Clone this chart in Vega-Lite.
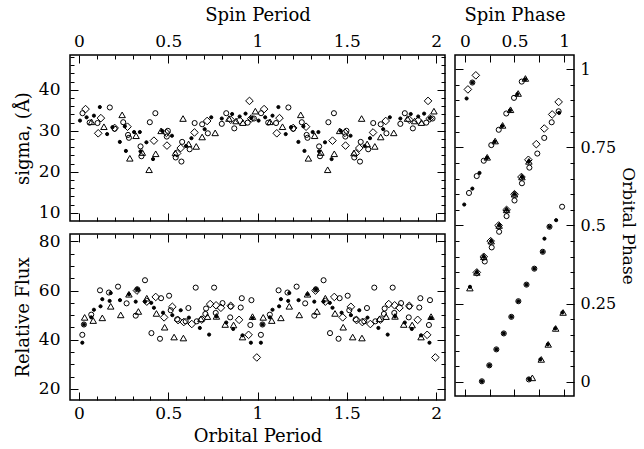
{
"$schema":"https://vega.github.io/schema/vega-lite/v6.json",
"padding":{"left":13,"top":5,"right":0,"bottom":0},
"config":{"view":{"stroke":"black","strokeWidth":1.5},"axis":{"grid":false,"domain":false,"tickColor":"black","tickWidth":1,"labelColor":"black","titleColor":"black","labelFont":"DejaVu Serif","titleFont":"DejaVu Serif","labelFontSize":17,"titleFontSize":18,"titleFontWeight":"normal","labelFlush":false,"labelOverlap":false}},
"datasets":{
"sig":[
{"x":0.006,"v":32.5,"s":"d"},{"x":0.043,"v":33.3,"s":"d"},{"x":0.084,"v":33.7,"s":"d"},{"x":0.117,"v":35.8,"s":"d"},{"x":0.158,"v":29.2,"s":"d"},{"x":0.188,"v":30.9,"s":"d"},{"x":0.229,"v":27.3,"s":"d"},{"x":0.257,"v":31.1,"s":"d"},{"x":0.263,"v":25.1,"s":"d"},{"x":0.309,"v":29.7,"s":"d"},{"x":0.341,"v":29.7,"s":"d"},{"x":0.345,"v":25.0,"s":"d"},{"x":0.378,"v":27.2,"s":"d"},{"x":0.415,"v":23.1,"s":"d"},{"x":0.466,"v":30.0,"s":"d"},{"x":0.521,"v":28.8,"s":"d"},{"x":0.60,"v":26.3,"s":"d"},{"x":0.63,"v":28.2,"s":"d"},{"x":0.704,"v":30.4,"s":"d"},{"x":0.741,"v":33.3,"s":"d"},{"x":0.80,"v":33.0,"s":"d"},{"x":0.858,"v":34.1,"s":"d"},{"x":0.90,"v":33.5,"s":"d"},{"x":0.933,"v":34.2,"s":"d"},{"x":0.965,"v":33.1,"s":"d"},
{"x":1.006,"v":32.5,"s":"d"},{"x":1.043,"v":33.3,"s":"d"},{"x":1.084,"v":33.7,"s":"d"},{"x":1.117,"v":35.8,"s":"d"},{"x":1.158,"v":29.2,"s":"d"},{"x":1.188,"v":30.9,"s":"d"},{"x":1.229,"v":27.3,"s":"d"},{"x":1.257,"v":31.1,"s":"d"},{"x":1.263,"v":25.1,"s":"d"},{"x":1.309,"v":29.7,"s":"d"},{"x":1.341,"v":29.7,"s":"d"},{"x":1.345,"v":25.0,"s":"d"},{"x":1.378,"v":27.2,"s":"d"},{"x":1.415,"v":23.1,"s":"d"},{"x":1.466,"v":30.0,"s":"d"},{"x":1.521,"v":28.8,"s":"d"},{"x":1.60,"v":26.3,"s":"d"},{"x":1.63,"v":28.2,"s":"d"},{"x":1.704,"v":30.4,"s":"d"},{"x":1.741,"v":33.3,"s":"d"},{"x":1.80,"v":33.0,"s":"d"},{"x":1.858,"v":34.1,"s":"d"},{"x":1.90,"v":33.5,"s":"d"},{"x":1.933,"v":34.2,"s":"d"},{"x":1.965,"v":33.1,"s":"d"},
{"x":0.02,"v":34.3,"s":"c"},{"x":0.06,"v":32.0,"s":"c"},{"x":0.104,"v":31.9,"s":"c"},{"x":0.173,"v":35.7,"s":"c"},{"x":0.20,"v":30.5,"s":"c"},{"x":0.248,"v":32.1,"s":"c"},{"x":0.275,"v":29.0,"s":"c"},{"x":0.28,"v":28.3,"s":"c"},{"x":0.345,"v":26.2,"s":"c"},{"x":0.35,"v":23.8,"s":"c"},{"x":0.397,"v":32.1,"s":"c"},{"x":0.428,"v":34.3,"s":"c"},{"x":0.498,"v":30.0,"s":"c"},{"x":0.492,"v":28.6,"s":"c"},{"x":0.542,"v":23.5,"s":"c"},{"x":0.574,"v":22.5,"s":"c"},{"x":0.578,"v":27.3,"s":"c"},{"x":0.62,"v":25.5,"s":"c"},{"x":0.648,"v":31.9,"s":"c"},{"x":0.69,"v":31.6,"s":"c"},{"x":0.722,"v":29.4,"s":"c"},{"x":0.80,"v":31.7,"s":"c"},{"x":0.825,"v":34.3,"s":"c"},{"x":0.87,"v":30.6,"s":"c"},{"x":0.945,"v":32.0,"s":"c"},{"x":0.98,"v":33.0,"s":"c"},
{"x":1.02,"v":34.3,"s":"c"},{"x":1.06,"v":32.0,"s":"c"},{"x":1.104,"v":31.9,"s":"c"},{"x":1.173,"v":35.7,"s":"c"},{"x":1.20,"v":30.5,"s":"c"},{"x":1.248,"v":32.1,"s":"c"},{"x":1.275,"v":29.0,"s":"c"},{"x":1.28,"v":28.3,"s":"c"},{"x":1.345,"v":26.2,"s":"c"},{"x":1.35,"v":23.8,"s":"c"},{"x":1.397,"v":32.1,"s":"c"},{"x":1.428,"v":34.3,"s":"c"},{"x":1.498,"v":30.0,"s":"c"},{"x":1.492,"v":28.6,"s":"c"},{"x":1.542,"v":23.5,"s":"c"},{"x":1.574,"v":22.5,"s":"c"},{"x":1.578,"v":27.3,"s":"c"},{"x":1.62,"v":25.5,"s":"c"},{"x":1.648,"v":31.9,"s":"c"},{"x":1.69,"v":31.6,"s":"c"},{"x":1.722,"v":29.4,"s":"c"},{"x":1.80,"v":31.7,"s":"c"},{"x":1.825,"v":34.3,"s":"c"},{"x":1.87,"v":30.6,"s":"c"},{"x":1.945,"v":32.0,"s":"c"},{"x":1.98,"v":33.0,"s":"c"},
{"x":0.07,"v":32.2,"s":"t"},{"x":0.14,"v":31.0,"s":"t"},{"x":0.242,"v":33.9,"s":"t"},{"x":0.285,"v":23.3,"s":"t"},{"x":0.32,"v":28.8,"s":"t"},{"x":0.355,"v":24.7,"s":"t"},{"x":0.393,"v":20.5,"s":"t"},{"x":0.43,"v":24.4,"s":"t"},{"x":0.46,"v":30.0,"s":"t"},{"x":0.54,"v":24.6,"s":"t"},{"x":0.583,"v":33.0,"s":"t"},{"x":0.614,"v":26.8,"s":"t"},{"x":0.657,"v":26.2,"s":"t"},{"x":0.69,"v":28.5,"s":"t"},{"x":0.763,"v":29.5,"s":"t"},{"x":0.84,"v":33.0,"s":"t"},{"x":0.88,"v":32.4,"s":"t"},{"x":0.918,"v":32.0,"s":"t"},{"x":0.988,"v":34.8,"s":"t"},
{"x":1.07,"v":32.2,"s":"t"},{"x":1.14,"v":31.0,"s":"t"},{"x":1.242,"v":33.9,"s":"t"},{"x":1.285,"v":23.3,"s":"t"},{"x":1.32,"v":28.8,"s":"t"},{"x":1.355,"v":24.7,"s":"t"},{"x":1.393,"v":20.5,"s":"t"},{"x":1.43,"v":24.4,"s":"t"},{"x":1.46,"v":30.0,"s":"t"},{"x":1.54,"v":24.6,"s":"t"},{"x":1.583,"v":33.0,"s":"t"},{"x":1.614,"v":26.8,"s":"t"},{"x":1.657,"v":26.2,"s":"t"},{"x":1.69,"v":28.5,"s":"t"},{"x":1.763,"v":29.5,"s":"t"},{"x":1.84,"v":33.0,"s":"t"},{"x":1.88,"v":32.4,"s":"t"},{"x":1.918,"v":32.0,"s":"t"},{"x":1.988,"v":34.8,"s":"t"},
{"x":0.037,"v":35.3,"s":"m"},{"x":0.108,"v":29.4,"s":"m"},{"x":0.123,"v":33.1,"s":"m"},{"x":0.20,"v":30.7,"s":"m"},{"x":0.272,"v":31.0,"s":"m"},{"x":0.42,"v":27.6,"s":"m"},{"x":0.49,"v":29.5,"s":"m"},{"x":0.493,"v":26.4,"s":"m"},{"x":0.55,"v":24.5,"s":"m"},{"x":0.57,"v":25.8,"s":"m"},{"x":0.647,"v":29.6,"s":"m"},{"x":0.718,"v":32.4,"s":"m"},{"x":0.85,"v":32.7,"s":"m"},{"x":0.90,"v":32.5,"s":"m"},{"x":0.955,"v":37.3,"s":"m"},{"x":0.965,"v":33.0,"s":"m"},
{"x":1.037,"v":35.3,"s":"m"},{"x":1.108,"v":29.4,"s":"m"},{"x":1.123,"v":33.1,"s":"m"},{"x":1.20,"v":30.7,"s":"m"},{"x":1.272,"v":31.0,"s":"m"},{"x":1.42,"v":27.6,"s":"m"},{"x":1.49,"v":29.5,"s":"m"},{"x":1.493,"v":26.4,"s":"m"},{"x":1.55,"v":24.5,"s":"m"},{"x":1.57,"v":25.8,"s":"m"},{"x":1.647,"v":29.6,"s":"m"},{"x":1.718,"v":32.4,"s":"m"},{"x":1.85,"v":32.7,"s":"m"},{"x":1.90,"v":32.5,"s":"m"},{"x":1.955,"v":37.3,"s":"m"},{"x":1.965,"v":33.0,"s":"m"}
],
"flux":[
{"x":0.019,"v":38.8,"s":"d"},{"x":0.028,"v":46.2,"s":"d"},{"x":0.069,"v":49.1,"s":"d"},{"x":0.084,"v":52.2,"s":"d"},{"x":0.121,"v":53.6,"s":"d"},{"x":0.131,"v":56.5,"s":"d"},{"x":0.172,"v":55.8,"s":"d"},{"x":0.178,"v":59.0,"s":"d"},{"x":0.23,"v":56.1,"s":"d"},{"x":0.28,"v":58.5,"s":"d"},{"x":0.318,"v":55.5,"s":"d"},{"x":0.327,"v":60.5,"s":"d"},{"x":0.37,"v":55.5,"s":"d"},{"x":0.405,"v":55.0,"s":"d"},{"x":0.42,"v":53.0,"s":"d"},{"x":0.471,"v":51.0,"s":"d"},{"x":0.523,"v":50.0,"s":"d"},{"x":0.57,"v":52.0,"s":"d"},{"x":0.616,"v":49.0,"s":"d"},{"x":0.677,"v":44.8,"s":"d"},{"x":0.729,"v":42.1,"s":"d"},{"x":0.77,"v":49.5,"s":"d"},{"x":0.825,"v":47.0,"s":"d"},{"x":0.864,"v":44.4,"s":"d"},{"x":0.916,"v":41.8,"s":"d"},{"x":0.963,"v":38.8,"s":"d"},{"x":0.972,"v":48.8,"s":"d"},
{"x":1.019,"v":38.8,"s":"d"},{"x":1.028,"v":46.2,"s":"d"},{"x":1.069,"v":49.1,"s":"d"},{"x":1.084,"v":52.2,"s":"d"},{"x":1.121,"v":53.6,"s":"d"},{"x":1.131,"v":56.5,"s":"d"},{"x":1.172,"v":55.8,"s":"d"},{"x":1.178,"v":59.0,"s":"d"},{"x":1.23,"v":56.1,"s":"d"},{"x":1.28,"v":58.5,"s":"d"},{"x":1.318,"v":55.5,"s":"d"},{"x":1.327,"v":60.5,"s":"d"},{"x":1.37,"v":55.5,"s":"d"},{"x":1.405,"v":55.0,"s":"d"},{"x":1.42,"v":53.0,"s":"d"},{"x":1.471,"v":51.0,"s":"d"},{"x":1.523,"v":50.0,"s":"d"},{"x":1.57,"v":52.0,"s":"d"},{"x":1.616,"v":49.0,"s":"d"},{"x":1.677,"v":44.8,"s":"d"},{"x":1.729,"v":42.1,"s":"d"},{"x":1.77,"v":49.5,"s":"d"},{"x":1.825,"v":47.0,"s":"d"},{"x":1.864,"v":44.4,"s":"d"},{"x":1.916,"v":41.8,"s":"d"},{"x":1.963,"v":38.8,"s":"d"},{"x":1.972,"v":48.8,"s":"d"},
{"x":0.019,"v":42.0,"s":"c"},{"x":0.028,"v":46.2,"s":"c"},{"x":0.069,"v":50.2,"s":"c"},{"x":0.118,"v":60.1,"s":"c"},{"x":0.168,"v":59.2,"s":"c"},{"x":0.219,"v":61.6,"s":"c"},{"x":0.267,"v":54.8,"s":"c"},{"x":0.318,"v":49.8,"s":"c"},{"x":0.327,"v":60.5,"s":"c"},{"x":0.37,"v":64.2,"s":"c"},{"x":0.406,"v":42.7,"s":"c"},{"x":0.454,"v":40.4,"s":"c"},{"x":0.46,"v":56.9,"s":"c"},{"x":0.505,"v":57.9,"s":"c"},{"x":0.514,"v":52.0,"s":"c"},{"x":0.55,"v":48.3,"s":"c"},{"x":0.598,"v":47.5,"s":"c"},{"x":0.613,"v":52.9,"s":"c"},{"x":0.654,"v":61.2,"s":"c"},{"x":0.66,"v":47.5,"s":"c"},{"x":0.708,"v":50.5,"s":"c"},{"x":0.712,"v":52.7,"s":"c"},{"x":0.757,"v":61.2,"s":"c"},{"x":0.766,"v":50.9,"s":"c"},{"x":0.804,"v":54.9,"s":"c"},{"x":0.847,"v":49.1,"s":"c"},{"x":0.85,"v":53.5,"s":"c"},{"x":0.906,"v":53.1,"s":"c"},{"x":0.912,"v":56.9,"s":"c"},{"x":0.96,"v":46.0,"s":"c"},{"x":0.966,"v":56.1,"s":"c"},
{"x":1.019,"v":42.0,"s":"c"},{"x":1.028,"v":46.2,"s":"c"},{"x":1.069,"v":50.2,"s":"c"},{"x":1.118,"v":60.1,"s":"c"},{"x":1.168,"v":59.2,"s":"c"},{"x":1.219,"v":61.6,"s":"c"},{"x":1.267,"v":54.8,"s":"c"},{"x":1.318,"v":49.8,"s":"c"},{"x":1.327,"v":60.5,"s":"c"},{"x":1.37,"v":64.2,"s":"c"},{"x":1.406,"v":42.7,"s":"c"},{"x":1.454,"v":40.4,"s":"c"},{"x":1.46,"v":56.9,"s":"c"},{"x":1.505,"v":57.9,"s":"c"},{"x":1.514,"v":52.0,"s":"c"},{"x":1.55,"v":48.3,"s":"c"},{"x":1.598,"v":47.5,"s":"c"},{"x":1.613,"v":52.9,"s":"c"},{"x":1.654,"v":61.2,"s":"c"},{"x":1.66,"v":47.5,"s":"c"},{"x":1.708,"v":50.5,"s":"c"},{"x":1.712,"v":52.7,"s":"c"},{"x":1.757,"v":61.2,"s":"c"},{"x":1.766,"v":50.9,"s":"c"},{"x":1.804,"v":54.9,"s":"c"},{"x":1.847,"v":49.1,"s":"c"},{"x":1.85,"v":53.5,"s":"c"},{"x":1.906,"v":53.1,"s":"c"},{"x":1.912,"v":56.9,"s":"c"},{"x":1.96,"v":46.0,"s":"c"},{"x":1.966,"v":56.1,"s":"c"},
{"x":0.032,"v":49.1,"s":"t"},{"x":0.08,"v":47.8,"s":"t"},{"x":0.131,"v":48.9,"s":"t"},{"x":0.178,"v":53.6,"s":"t"},{"x":0.234,"v":50.1,"s":"t"},{"x":0.28,"v":58.5,"s":"t"},{"x":0.333,"v":51.5,"s":"t"},{"x":0.38,"v":56.9,"s":"t"},{"x":0.434,"v":50.7,"s":"t"},{"x":0.48,"v":45.1,"s":"t"},{"x":0.533,"v":41.1,"s":"t"},{"x":0.585,"v":40.7,"s":"t"},{"x":0.683,"v":48.5,"s":"t"},{"x":0.72,"v":49.4,"s":"t"},{"x":0.77,"v":49.5,"s":"t"},{"x":0.819,"v":46.2,"s":"t"},{"x":0.866,"v":46.0,"s":"t"},{"x":0.916,"v":41.1,"s":"t"},{"x":0.972,"v":49.4,"s":"t"},
{"x":1.032,"v":49.1,"s":"t"},{"x":1.08,"v":47.8,"s":"t"},{"x":1.131,"v":48.9,"s":"t"},{"x":1.178,"v":53.6,"s":"t"},{"x":1.234,"v":50.1,"s":"t"},{"x":1.28,"v":58.5,"s":"t"},{"x":1.333,"v":51.5,"s":"t"},{"x":1.38,"v":56.9,"s":"t"},{"x":1.434,"v":50.7,"s":"t"},{"x":1.48,"v":45.1,"s":"t"},{"x":1.533,"v":41.1,"s":"t"},{"x":1.585,"v":40.7,"s":"t"},{"x":1.683,"v":48.5,"s":"t"},{"x":1.72,"v":49.4,"s":"t"},{"x":1.77,"v":49.5,"s":"t"},{"x":1.819,"v":46.2,"s":"t"},{"x":1.866,"v":46.0,"s":"t"},{"x":1.916,"v":41.1,"s":"t"},{"x":1.972,"v":49.4,"s":"t"},
{"x":0.325,"v":60.0,"s":"m"},{"x":0.38,"v":55.5,"s":"m"},{"x":0.43,"v":57.4,"s":"m"},{"x":0.477,"v":49.1,"s":"m"},{"x":0.523,"v":53.4,"s":"m"},{"x":0.555,"v":48.0,"s":"m"},{"x":0.587,"v":47.2,"s":"m"},{"x":0.632,"v":46.4,"s":"m"},{"x":0.688,"v":48.2,"s":"m"},{"x":0.735,"v":54.5,"s":"m"},{"x":0.768,"v":54.0,"s":"m"},{"x":0.795,"v":53.0,"s":"m"},{"x":0.85,"v":53.8,"s":"m"},{"x":0.897,"v":48.1,"s":"m"},{"x":0.95,"v":42.0,"s":"m"},{"x":0.996,"v":32.8,"s":"m"},
{"x":1.325,"v":60.0,"s":"m"},{"x":1.38,"v":55.5,"s":"m"},{"x":1.43,"v":57.4,"s":"m"},{"x":1.477,"v":49.1,"s":"m"},{"x":1.523,"v":53.4,"s":"m"},{"x":1.555,"v":48.0,"s":"m"},{"x":1.587,"v":47.2,"s":"m"},{"x":1.632,"v":46.4,"s":"m"},{"x":1.688,"v":48.2,"s":"m"},{"x":1.735,"v":54.5,"s":"m"},{"x":1.768,"v":54.0,"s":"m"},{"x":1.795,"v":53.0,"s":"m"},{"x":1.85,"v":53.8,"s":"m"},{"x":1.897,"v":48.1,"s":"m"},{"x":1.95,"v":42.0,"s":"m"},{"x":1.996,"v":32.8,"s":"m"}
],
"ph":[
{"x":-0.007,"v":0.567,"s":"d"},{"x":0.075,"v":0.618,"s":"d"},{"x":0.147,"v":0.668,"s":"d"},{"x":0.222,"v":0.716,"s":"d"},{"x":0.30,"v":0.768,"s":"d"},{"x":0.375,"v":0.818,"s":"d"},{"x":0.455,"v":0.868,"s":"d"},{"x":0.529,"v":0.92,"s":"d"},{"x":0.608,"v":0.967,"s":"d"},{"x":0.017,"v":0.906,"s":"d"},{"x":0.075,"v":0.957,"s":"d"},
{"x":0.171,"v":0.002,"s":"d"},{"x":0.246,"v":0.053,"s":"d"},{"x":0.317,"v":0.104,"s":"d"},{"x":0.392,"v":0.155,"s":"d"},{"x":0.468,"v":0.208,"s":"d"},{"x":0.539,"v":0.258,"s":"d"},{"x":0.621,"v":0.311,"s":"d"},{"x":0.70,"v":0.362,"s":"d"},{"x":0.785,"v":0.416,"s":"d"},{"x":0.802,"v":0.458,"s":"d"},{"x":0.853,"v":0.496,"s":"d"},{"x":0.92,"v":0.517,"s":"d"},
{"x":0.648,"v":0.009,"s":"d"},{"x":0.761,"v":0.072,"s":"d"},{"x":0.836,"v":0.12,"s":"d"},{"x":0.911,"v":0.171,"s":"d"},{"x":0.983,"v":0.222,"s":"d"},
{"x":0.051,"v":0.304,"s":"d"},{"x":0.12,"v":0.35,"s":"d"},{"x":0.19,"v":0.40,"s":"d"},{"x":0.265,"v":0.45,"s":"d"},{"x":0.345,"v":0.50,"s":"d"},{"x":0.42,"v":0.55,"s":"d"},{"x":0.50,"v":0.60,"s":"d"},{"x":0.575,"v":0.655,"s":"d"},{"x":0.645,"v":0.705,"s":"d"},{"x":0.95,"v":0.86,"s":"d"},
{"x":0.041,"v":0.604,"s":"c"},{"x":0.119,"v":0.658,"s":"c"},{"x":0.19,"v":0.707,"s":"c"},{"x":0.266,"v":0.757,"s":"c"},{"x":0.341,"v":0.806,"s":"c"},{"x":0.417,"v":0.858,"s":"c"},{"x":0.495,"v":0.908,"s":"c"},{"x":0.573,"v":0.96,"s":"c"},{"x":0.075,"v":0.957,"s":"c"},
{"x":0.171,"v":0.002,"s":"c"},{"x":0.246,"v":0.053,"s":"c"},{"x":0.317,"v":0.104,"s":"c"},{"x":0.392,"v":0.155,"s":"c"},{"x":0.468,"v":0.208,"s":"c"},{"x":0.539,"v":0.258,"s":"c"},{"x":0.621,"v":0.311,"s":"c"},{"x":0.70,"v":0.362,"s":"c"},{"x":0.785,"v":0.416,"s":"c"},{"x":0.853,"v":0.496,"s":"c"},{"x":0.98,"v":0.56,"s":"c"},
{"x":0.20,"v":0.385,"s":"c"},{"x":0.27,"v":0.43,"s":"c"},{"x":0.345,"v":0.48,"s":"c"},{"x":0.42,"v":0.53,"s":"c"},{"x":0.50,"v":0.58,"s":"c"},{"x":0.575,"v":0.635,"s":"c"},{"x":0.65,"v":0.685,"s":"c"},{"x":0.73,"v":0.73,"s":"c"},{"x":0.80,"v":0.78,"s":"c"},{"x":0.875,"v":0.83,"s":"c"},{"x":0.945,"v":0.865,"s":"c"},{"x":0.645,"v":0.008,"s":"c"},
{"x":0.225,"v":0.718,"s":"t"},{"x":0.305,"v":0.77,"s":"t"},{"x":0.38,"v":0.82,"s":"t"},{"x":0.46,"v":0.87,"s":"t"},{"x":0.537,"v":0.922,"s":"t"},{"x":0.61,"v":0.97,"s":"t"},
{"x":0.05,"v":0.30,"s":"t"},{"x":0.12,"v":0.35,"s":"t"},{"x":0.19,"v":0.40,"s":"t"},{"x":0.265,"v":0.45,"s":"t"},{"x":0.345,"v":0.50,"s":"t"},{"x":0.42,"v":0.55,"s":"t"},{"x":0.50,"v":0.60,"s":"t"},{"x":0.575,"v":0.655,"s":"t"},{"x":0.645,"v":0.705,"s":"t"},
{"x":0.68,"v":0.013,"s":"t"},{"x":0.77,"v":0.072,"s":"t"},{"x":0.84,"v":0.12,"s":"t"},{"x":0.915,"v":0.171,"s":"t"},{"x":0.99,"v":0.222,"s":"t"},
{"x":0.12,"v":0.35,"s":"m"},{"x":0.19,"v":0.40,"s":"m"},{"x":0.26,"v":0.45,"s":"m"},{"x":0.34,"v":0.50,"s":"m"},{"x":0.42,"v":0.55,"s":"m"},{"x":0.50,"v":0.60,"s":"m"},{"x":0.57,"v":0.655,"s":"m"},{"x":0.64,"v":0.71,"s":"m"},{"x":0.72,"v":0.76,"s":"m"},{"x":0.80,"v":0.81,"s":"m"},{"x":0.88,"v":0.855,"s":"m"},{"x":0.945,"v":0.895,"s":"m"},{"x":0.03,"v":0.935,"s":"m"},{"x":0.11,"v":0.98,"s":"m"}
]},
"spacing":6,
"hconcat":[
{"spacing":8,"vconcat":[
{"width":375,"height":166,"data":{"name":"sig"},
"layer":[
{"mark":{"type":"point","stroke":"black","strokeWidth":1,"opacity":1},
"encoding":{
"x":{"field":"x","type":"quantitative","scale":{"domain":[-0.05,2.05],"nice":false,"zero":false},"axis":{"orient":"top","values":[0,0.5,1,1.5,2],"format":".1~f","title":"Spin Period","tickSize":-8,"labelPadding":13,"titlePadding":8}},
"y":{"field":"v","type":"quantitative","scale":{"domain":[8,48.5],"nice":false,"zero":false},"axis":{"orient":"left","values":[10,20,30,40],"title":"sigma, (Å)","tickSize":-8,"labelPadding":18,"titlePadding":6}},
"shape":{"field":"s","type":"nominal","scale":{"domain":["d","c","t","m"],"range":["circle","circle","triangle-up","diamond"]},"legend":null},
"size":{"field":"s","type":"nominal","scale":{"domain":["d","c","t","m"],"range":[10,58,85,115]},"legend":null},
"fill":{"field":"s","type":"nominal","scale":{"domain":["d","c","t","m"],"range":["black","transparent","transparent","transparent"]},"legend":null}}},
{"mark":{"type":"point","opacity":0},"encoding":{
"x":{"field":"x","type":"quantitative","scale":{"domain":[-0.05,2.05],"nice":false,"zero":false},"axis":{"orient":"bottom","values":[0,0.5,1,1.5,2],"labels":false,"title":null,"tickSize":-8}},
"y":{"field":"v","type":"quantitative","scale":{"domain":[8,48.5],"nice":false,"zero":false},"axis":{"orient":"right","values":[10,20,30,40],"labels":false,"title":null,"tickSize":-8}}}},
{"mark":{"type":"point","opacity":0},"encoding":{
"x":{"field":"x","type":"quantitative","scale":{"domain":[-0.05,2.05],"nice":false,"zero":false},"axis":{"orient":"top","values":[0.1,0.2,0.3,0.4,0.6,0.7,0.8,0.9,1.1,1.2,1.3,1.4,1.6,1.7,1.8,1.9],"labels":false,"title":null,"tickSize":-4}},
"y":{"field":"v","type":"quantitative","scale":{"domain":[8,48.5],"nice":false,"zero":false},"axis":{"orient":"left","values":[12,14,16,18,22,24,26,28,32,34,36,38,42,44,46,48],"labels":false,"title":null,"tickSize":-4}}}},
{"mark":{"type":"point","opacity":0},"encoding":{
"x":{"field":"x","type":"quantitative","scale":{"domain":[-0.05,2.05],"nice":false,"zero":false},"axis":{"orient":"bottom","values":[0.1,0.2,0.3,0.4,0.6,0.7,0.8,0.9,1.1,1.2,1.3,1.4,1.6,1.7,1.8,1.9],"labels":false,"title":null,"tickSize":-4}},
"y":{"field":"v","type":"quantitative","scale":{"domain":[8,48.5],"nice":false,"zero":false},"axis":{"orient":"right","values":[12,14,16,18,22,24,26,28,32,34,36,38,42,44,46,48],"labels":false,"title":null,"tickSize":-4}}}}
],
"resolve":{"scale":{"x":"independent","y":"independent"},"axis":{"x":"independent","y":"independent"}}},
{"width":375,"height":166,"data":{"name":"flux"},
"layer":[
{"mark":{"type":"point","stroke":"black","strokeWidth":1,"opacity":1},
"encoding":{
"x":{"field":"x","type":"quantitative","scale":{"domain":[-0.05,2.05],"nice":false,"zero":false},"axis":{"orient":"bottom","values":[0,0.5,1,1.5,2],"format":".1~f","title":"Orbital Period","tickSize":-8,"labelPadding":13,"titlePadding":6}},
"y":{"field":"v","type":"quantitative","scale":{"domain":[15.5,83],"nice":false,"zero":false},"axis":{"orient":"left","values":[20,40,60,80],"title":"Relative Flux","tickSize":-8,"labelPadding":18,"titlePadding":6}},
"shape":{"field":"s","type":"nominal","scale":{"domain":["d","c","t","m"],"range":["circle","circle","triangle-up","diamond"]},"legend":null},
"size":{"field":"s","type":"nominal","scale":{"domain":["d","c","t","m"],"range":[10,58,85,115]},"legend":null},
"fill":{"field":"s","type":"nominal","scale":{"domain":["d","c","t","m"],"range":["black","transparent","transparent","transparent"]},"legend":null}}},
{"mark":{"type":"point","opacity":0},"encoding":{
"x":{"field":"x","type":"quantitative","scale":{"domain":[-0.05,2.05],"nice":false,"zero":false},"axis":{"orient":"top","values":[0,0.5,1,1.5,2],"labels":false,"title":null,"tickSize":-8}},
"y":{"field":"v","type":"quantitative","scale":{"domain":[15.5,83],"nice":false,"zero":false},"axis":{"orient":"right","values":[20,40,60,80],"labels":false,"title":null,"tickSize":-8}}}},
{"mark":{"type":"point","opacity":0},"encoding":{
"x":{"field":"x","type":"quantitative","scale":{"domain":[-0.05,2.05],"nice":false,"zero":false},"axis":{"orient":"bottom","values":[0.1,0.2,0.3,0.4,0.6,0.7,0.8,0.9,1.1,1.2,1.3,1.4,1.6,1.7,1.8,1.9],"labels":false,"title":null,"tickSize":-4}},
"y":{"field":"v","type":"quantitative","scale":{"domain":[15.5,83],"nice":false,"zero":false},"axis":{"orient":"left","values":[25,30,35,45,50,55,65,70,75],"labels":false,"title":null,"tickSize":-4}}}},
{"mark":{"type":"point","opacity":0},"encoding":{
"x":{"field":"x","type":"quantitative","scale":{"domain":[-0.05,2.05],"nice":false,"zero":false},"axis":{"orient":"top","values":[0.1,0.2,0.3,0.4,0.6,0.7,0.8,0.9,1.1,1.2,1.3,1.4,1.6,1.7,1.8,1.9],"labels":false,"title":null,"tickSize":-4}},
"y":{"field":"v","type":"quantitative","scale":{"domain":[15.5,83],"nice":false,"zero":false},"axis":{"orient":"right","values":[25,30,35,45,50,55,65,70,75],"labels":false,"title":null,"tickSize":-4}}}}
],
"resolve":{"scale":{"x":"independent","y":"independent"},"axis":{"x":"independent","y":"independent"}}}
]},
{"width":119,"height":341,"data":{"name":"ph"},
"layer":[
{"mark":{"type":"point","stroke":"black","strokeWidth":1,"opacity":1},
"encoding":{
"x":{"field":"x","type":"quantitative","scale":{"domain":[-0.1,1.1],"nice":false,"zero":false},"axis":{"orient":"top","values":[0,0.5,1],"format":".1~f","title":"Spin Phase","tickSize":-7,"labelPadding":12,"titlePadding":8}},
"y":{"field":"v","type":"quantitative","scale":{"domain":[-0.045,1.045],"nice":false,"zero":false},"axis":{"orient":"right","values":[0,0.25,0.5,0.75,1],"format":".2~f","title":"Orbital Phase","tickSize":-8,"labelPadding":14,"titlePadding":3,"labelFontSize":16,"titleFontSize":17}},
"shape":{"field":"s","type":"nominal","scale":{"domain":["d","c","t","m"],"range":["circle","circle","triangle-up","diamond"]},"legend":null},
"size":{"field":"s","type":"nominal","scale":{"domain":["d","c","t","m"],"range":[10,58,85,115]},"legend":null},
"fill":{"field":"s","type":"nominal","scale":{"domain":["d","c","t","m"],"range":["black","transparent","transparent","transparent"]},"legend":null}}},
{"mark":{"type":"point","opacity":0},"encoding":{
"x":{"field":"x","type":"quantitative","scale":{"domain":[-0.1,1.1],"nice":false,"zero":false},"axis":{"orient":"bottom","values":[0,0.5,1],"labels":false,"title":null,"tickSize":-7}},
"y":{"field":"v","type":"quantitative","scale":{"domain":[-0.045,1.045],"nice":false,"zero":false},"axis":{"orient":"left","values":[0,0.25,0.5,0.75,1],"labels":false,"title":null,"tickSize":-8}}}},
{"mark":{"type":"point","opacity":0},"encoding":{
"x":{"field":"x","type":"quantitative","scale":{"domain":[-0.1,1.1],"nice":false,"zero":false},"axis":{"orient":"top","values":[0.25,0.75],"labels":false,"title":null,"tickSize":-7}},
"y":{"field":"v","type":"quantitative","scale":{"domain":[-0.045,1.045],"nice":false,"zero":false},"axis":{"orient":"right","values":[0.05,0.1,0.15,0.2,0.3,0.35,0.4,0.45,0.55,0.6,0.65,0.7,0.8,0.85,0.9,0.95],"labels":false,"title":null,"tickSize":-4}}}},
{"mark":{"type":"point","opacity":0},"encoding":{
"x":{"field":"x","type":"quantitative","scale":{"domain":[-0.1,1.1],"nice":false,"zero":false},"axis":{"orient":"bottom","values":[0.25,0.75],"labels":false,"title":null,"tickSize":-7}},
"y":{"field":"v","type":"quantitative","scale":{"domain":[-0.045,1.045],"nice":false,"zero":false},"axis":{"orient":"left","values":[0.05,0.1,0.15,0.2,0.3,0.35,0.4,0.45,0.55,0.6,0.65,0.7,0.8,0.85,0.9,0.95],"labels":false,"title":null,"tickSize":-4}}}}
],
"resolve":{"scale":{"x":"independent","y":"independent"},"axis":{"x":"independent","y":"independent"}}}
]
}
